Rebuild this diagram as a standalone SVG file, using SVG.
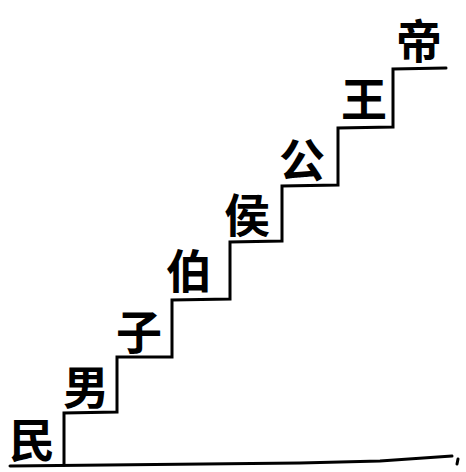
<svg xmlns="http://www.w3.org/2000/svg" width="466" height="472" viewBox="0 0 466 472">
<style>
.ln{fill:none;stroke:#000;stroke-width:3;stroke-linejoin:miter;stroke-linecap:round}
.t{font-family:"Noto Sans CJK SC","Noto Sans CJK JP",sans-serif;font-size:46px;font-weight:700;fill:#000;text-anchor:middle;dominant-baseline:central}
</style>
<rect width="466" height="472" fill="#fff"/>
<g id="connectors">
<path class="ln" d="M10,466 L300,463 L380,461 L452,456"/>
<path class="ln" d="M458,459 L457,464"/>
<path class="ln" d="M64,465 L64,413 L117,412 L117,357 L172,357 L172,300 L230,299 L230,242 L282,241 L282,186 L338,185 L338,128 L393,127 L393,69 L446,68"/>
</g>
<g id="n-min"><text class="t" x="32" y="437">民</text></g>
<g id="n-nan"><text class="t" x="86" y="384">男</text></g>
<g id="n-zi"><text class="t" x="139" y="329">子</text></g>
<g id="n-bo"><text class="t" x="189" y="268">伯</text></g>
<g id="n-hou"><text class="t" x="247" y="212">侯</text></g>
<g id="n-gong"><text class="t" x="302" y="157">公</text></g>
<g id="n-wang"><text class="t" x="364" y="96">王</text></g>
<g id="n-di"><text class="t" x="419" y="38">帝</text></g>
</svg>
